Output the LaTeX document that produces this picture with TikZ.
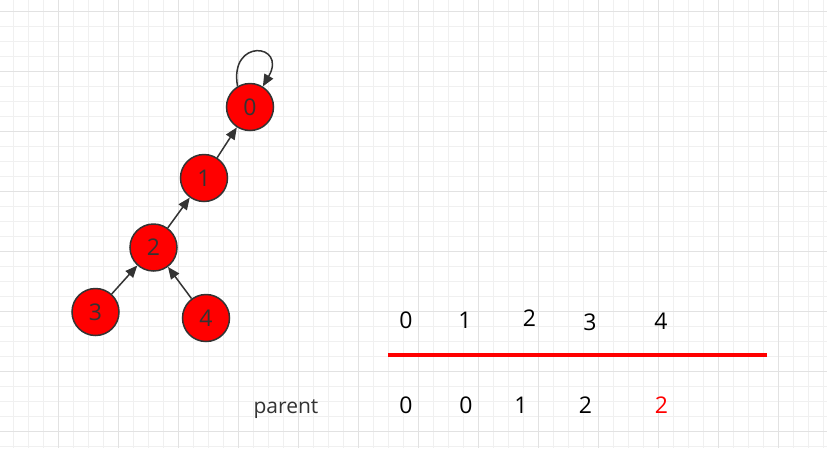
\documentclass[tikz,border=0pt]{standalone}
\usepackage{fontspec}
\setmainfont{Open Sans}
\usetikzlibrary{arrows.meta}
\definecolor{gridminor}{HTML}{F0F0F0}
\definecolor{gridmajor}{HTML}{E2E2E2}
\definecolor{ink}{HTML}{333333}

\begin{document}
\begin{tikzpicture}[x=1pt,y=-1pt,line width=1.5pt,
  vertex/.style={circle,draw=ink,fill=red,text=ink,minimum size=47pt,inner sep=0pt,font=\fontsize{23}{27}\selectfont},
  lbl/.style={anchor=base,inner sep=0pt,font=\fontsize{23}{27}\selectfont},
  link/.style={draw=ink,-{Triangle[length=12pt,width=10pt]}}]
  \useasboundingbox (0,0) rectangle (827,448);
  \fill[white] (0,0) rectangle (827,448);
  \foreach \x in {13,28,...,827} \draw[gridminor,line width=1pt] (\x,0) -- (\x,448);
  \foreach \y in {11,26,...,448} \draw[gridminor,line width=1pt] (0,\y) -- (827,\y);
  \foreach \x in {58,118,...,827} \draw[gridmajor,line width=1pt] (\x,0) -- (\x,448);
  \foreach \y in {11,71,...,448} \draw[gridmajor,line width=1pt] (0,\y) -- (827,\y);

  \node[vertex] (n0) at (250,107) {0};
  \node[vertex] (n1) at (204,178) {1};
  \node[vertex] (n2) at (153.5,247.5) {2};
  \node[vertex] (n3) at (95.5,312) {3};
  \node[vertex] (n4) at (206,318) {4};

  \path (n0.121) edge[link,out=100,in=60,looseness=5] (n0.58);
  \path (n1) edge[link] (n0);
  \path (n2) edge[link] (n1);
  \path (n3) edge[link] (n2);
  \path (n4) edge[link] (n2);

  \node[lbl] (i0) at (406,328) {0};
  \node[lbl] (i1) at (465,328) {1};
  \node[lbl] (i2) at (529.5,326.5) {2};
  \node[lbl] (i3) at (590,330) {3};
  \node[lbl] (i4) at (661,329) {4};

  \coordinate (rs) at (388,354.5);
  \coordinate (re) at (767,354.5);
  \draw[red,line width=4pt] (rs) -- (re);

  \node[lbl,text=ink,font=\fontsize{21}{25}\selectfont] (parent) at (286,413) {parent};
  \node[lbl] (p0) at (406,413) {0};
  \node[lbl] (p1) at (466,413) {0};
  \node[lbl] (p2) at (521,413) {1};
  \node[lbl] (p3) at (585.5,413) {2};
  \node[lbl,text=red] (p4) at (661.5,413) {2};
\end{tikzpicture}
\end{document}
